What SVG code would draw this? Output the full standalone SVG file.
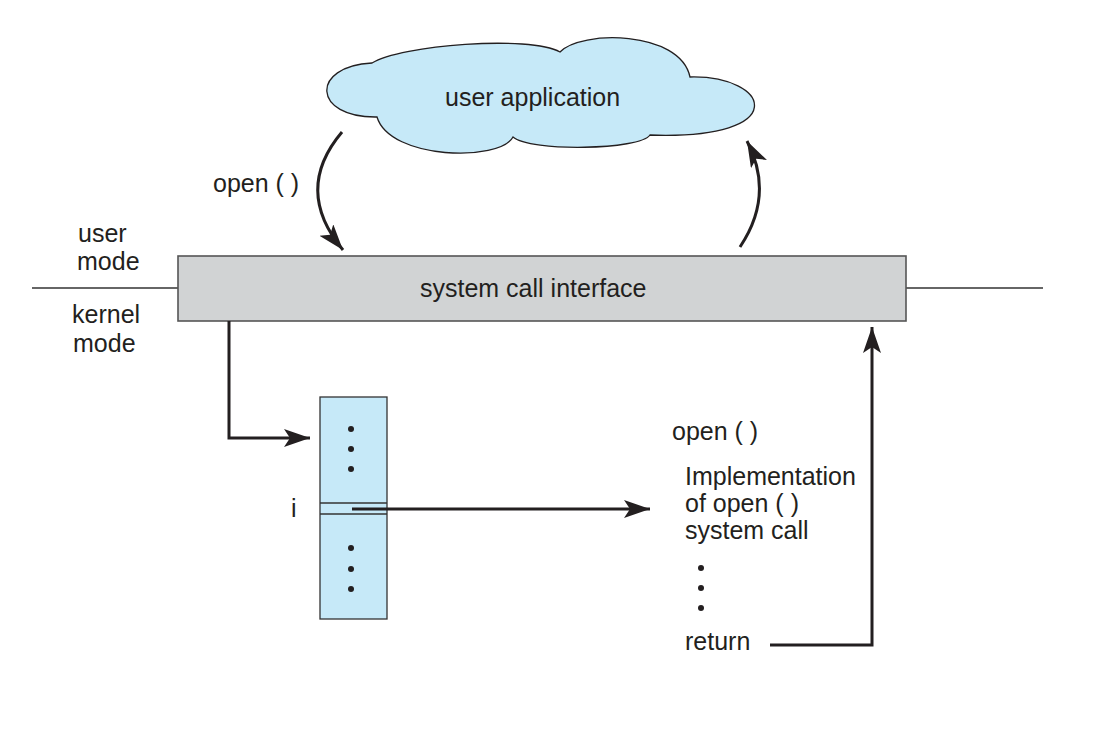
<svg xmlns="http://www.w3.org/2000/svg" width="1111" height="733" viewBox="0 0 1111 733">
<defs>
<style>
text{font-family:"Liberation Sans",Arial,sans-serif;font-size:25px;fill:#231f20}
.ln{fill:none;stroke:#231f20;stroke-width:3}
.thin{fill:none;stroke:#333;stroke-width:1.3}
.dot{fill:#231f20}
</style>
<marker id="ah" markerUnits="userSpaceOnUse" markerWidth="28" markerHeight="20" refX="26" refY="9" orient="auto">
<path d="M0,0 L26,9 L0,18 L6,9 Z" fill="#231f20"/>
</marker>
</defs>
<rect width="1111" height="733" fill="#fff"/>
<g id="mode-line">
<line x1="32" y1="288" x2="178" y2="288" class="thin"/>
<line x1="906" y1="288" x2="1043" y2="288" class="thin"/>
</g>
<g id="mode-labels">
<text x="78" y="242">user</text>
<text x="77" y="270">mode</text>
<text x="72" y="323">kernel</text>
<text x="73" y="352">mode</text>
</g>
<g id="user-application">
<path d="M377,117 C312,118 310,66 372,63 C400,45 530,35 560,52 C580,30 680,30 690,77 C770,75 795,140 650,135 C640,150 530,152 513,137 C500,162 390,160 377,117 Z" fill="#c6e9f8" stroke="#231f20" stroke-width="1.3"/>
<text x="445" y="106" font-size="26">user application</text>
</g>
<g id="system-call-interface">
<rect x="178" y="256" width="728" height="65" fill="#d1d3d4" stroke="#555" stroke-width="1.6"/>
<text x="420" y="297">system call interface</text>
</g>
<g id="table">
<rect x="320" y="397" width="67" height="222" fill="#c6e9f8" stroke="#333" stroke-width="1.3"/>
<line x1="320" y1="503" x2="387" y2="503" class="thin"/>
<line x1="320" y1="514" x2="387" y2="514" class="thin"/>
<circle cx="351" cy="429" r="3" class="dot"/>
<circle cx="351" cy="449" r="3" class="dot"/>
<circle cx="351" cy="469" r="3" class="dot"/>
<circle cx="351" cy="548" r="3" class="dot"/>
<circle cx="351" cy="569" r="3" class="dot"/>
<circle cx="351" cy="589" r="3" class="dot"/>
<text x="291" y="517">i</text>
</g>
<g id="implementation">
<text x="672" y="440">open ( )</text>
<text x="685" y="485">Implementation</text>
<text x="685" y="512">of open ( )</text>
<text x="685" y="539">system call</text>
<circle cx="701" cy="568" r="3" class="dot"/>
<circle cx="701" cy="588" r="3" class="dot"/>
<circle cx="701" cy="608" r="3" class="dot"/>
<text x="685" y="650">return</text>
</g>
<g id="connectors">
<path d="M342,132 Q293,190 343,250" class="ln" marker-end="url(#ah)"/>
<text x="213" y="192">open ( )</text>
<path d="M740,247 Q775,195 747,141" class="ln" marker-end="url(#ah)"/>
<polyline points="229,321 229,438 310,438" class="ln" marker-end="url(#ah)"/>
<line x1="352" y1="509" x2="650" y2="509" class="ln" marker-end="url(#ah)"/>
<polyline points="770,645 872,645 872,327" class="ln" marker-end="url(#ah)"/>
</g>
</svg>
